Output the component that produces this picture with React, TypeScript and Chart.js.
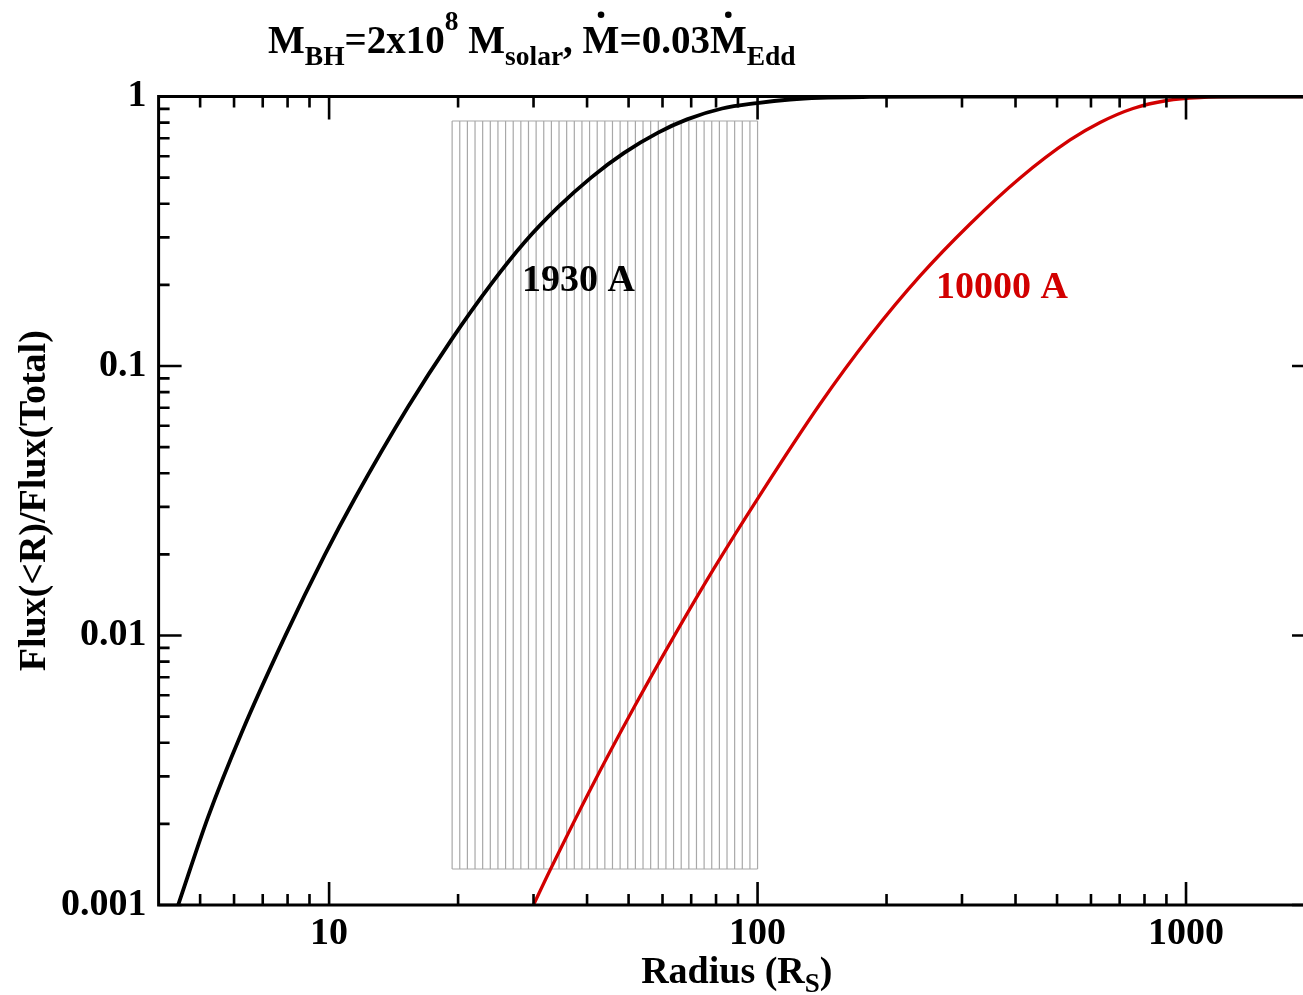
import { useEffect, useRef } from "react";
import { Chart, registerables } from "chart.js";

Chart.register(...registerables);

// ---- data ----
const radius1930 = [4.443, 5.22, 6.243, 7.88, 9.77, 11.48, 15.29, 19.27, 23.88, 28.62, 34.22, 40.87, 48.81, 58.59, 68.46, 82.65, 99.7, 119.1, 139.9, 183.0, 281.3, 2000];
const flux1930 = [0.001, 0.002124, 0.00434, 0.009881, 0.01991, 0.03224, 0.07058, 0.1248, 0.2013, 0.2884, 0.3883, 0.5001, 0.6176, 0.7345, 0.8224, 0.9026, 0.9452, 0.9747, 0.989, 0.9966, 0.9993, 1.0];

const radius10000 = [29.99, 32.8, 40.66, 51.31, 63.61, 78.86, 99.57, 139.9, 183.0, 239.5, 313.3, 409.9, 536.3, 630.1, 752.0, 903.0, 1078.3, 1411, 2000];
const flux10000 = [0.001, 0.001348, 0.002672, 0.005356, 0.00984, 0.01759, 0.03182, 0.07228, 0.1292, 0.2158, 0.3364, 0.4984, 0.6897, 0.8008, 0.9026, 0.9664, 0.9915, 0.9992, 1.0];

const xMajorTicks = [10, 100, 1000];
const xTickLabels = ["10", "100", "1000"];
const xMinorTicks = [5, 6, 7, 8, 9, 20, 30, 40, 50, 60, 70, 80, 90, 200, 300, 400, 500, 600, 700, 800, 900, 2000];
const yMajorTicks = [0.001, 0.01, 0.1, 1];
const yTickLabels = ["0.001", "0.01", "0.1", "1"];
const yMinorTicks = [
  0.002, 0.003, 0.004, 0.005, 0.006, 0.007, 0.008, 0.009,
  0.02, 0.03, 0.04, 0.05, 0.06, 0.07, 0.08, 0.09,
  0.2, 0.3, 0.4, 0.5, 0.6, 0.7, 0.8, 0.9,
];

// shaded (hatched) region: radius range and flux range
const hatchRadius = [19.37, 100];
const hatchFlux = [0.00136, 0.811];
const hatchLineCount = 41;

// curve labels
const labelTexts = ["1930 A", "10000 A"];
const labelRadius = [28.2, 261];
const labelFlux = [0.1898, 0.1792];

const RED = "#d20000";
const FONT = "'Liberation Serif', 'Times New Roman', Times, serif";

type Seg = { t: string; s: number; dy?: number; dot?: boolean };

function drawRich(ctx: CanvasRenderingContext2D, x: number, y: number, segs: Seg[], align: "left" | "center") {
  let total = 0;
  const widths: number[] = [];
  for (const sg of segs) {
    ctx.font = `bold ${sg.s}px ${FONT}`;
    const w = ctx.measureText(sg.t).width;
    widths.push(w);
    total += w;
  }
  let cx = align === "center" ? x - total / 2 : x;
  ctx.textAlign = "left";
  ctx.textBaseline = "alphabetic";
  segs.forEach((sg, i) => {
    ctx.font = `bold ${sg.s}px ${FONT}`;
    ctx.fillText(sg.t, cx, y + (sg.dy || 0));
    if (sg.dot) {
      ctx.beginPath();
      ctx.arc(cx + widths[i] / 2, y - sg.s * 0.98, 3.3, 0, Math.PI * 2);
      ctx.fill();
    }
    cx += widths[i];
  });
}

const decorPlugin = {
  id: "decor",
  beforeDatasetsDraw(chart: any) {
    const { ctx, chartArea } = chart;
    const xs = chart.scales.x;
    const ys = chart.scales.y;
    const x0 = xs.getPixelForValue(hatchRadius[0]);
    const x1 = xs.getPixelForValue(hatchRadius[1]);
    const yTop = ys.getPixelForValue(hatchFlux[1]);
    const yBot = ys.getPixelForValue(hatchFlux[0]);
    ctx.save();
    ctx.beginPath();
    ctx.rect(chartArea.left, chartArea.top, chartArea.right - chartArea.left, chartArea.bottom - chartArea.top);
    ctx.clip();
    ctx.strokeStyle = "#a8a8a8";
    ctx.lineWidth = 1.2;
    ctx.beginPath();
    for (let i = 0; i < hatchLineCount; i++) {
      const px = x0 + ((x1 - x0) * i) / (hatchLineCount - 1);
      ctx.moveTo(px, yTop);
      ctx.lineTo(px, yBot);
    }
    ctx.moveTo(x0, yTop);
    ctx.lineTo(x1, yTop);
    ctx.moveTo(x0, yBot);
    ctx.lineTo(x1, yBot);
    ctx.stroke();
    ctx.restore();
  },
  afterDatasetsDraw(chart: any) {
    const { ctx, chartArea } = chart;
    const { left, right, top, bottom } = chartArea;
    const xs = chart.scales.x;
    const ys = chart.scales.y;
    ctx.save();
    ctx.strokeStyle = "#000";
    ctx.lineWidth = 2.6;
    ctx.lineCap = "butt";
    const MAJ = 23;
    const MIN = 11;
    ctx.beginPath();
    const xt = (v: number, len: number) => {
      const px = xs.getPixelForValue(v);
      ctx.moveTo(px, bottom);
      ctx.lineTo(px, bottom - len);
      ctx.moveTo(px, top);
      ctx.lineTo(px, top + len);
    };
    const yt = (v: number, len: number) => {
      const py = ys.getPixelForValue(v);
      ctx.moveTo(left, py);
      ctx.lineTo(left + len, py);
      ctx.moveTo(right, py);
      ctx.lineTo(right - len, py);
    };
    xMajorTicks.forEach((v) => xt(v, MAJ));
    xMinorTicks.forEach((v) => xt(v, MIN));
    yMajorTicks.forEach((v) => yt(v, MAJ));
    yMinorTicks.forEach((v) => yt(v, MIN));
    ctx.stroke();
    ctx.lineWidth = 3;
    ctx.strokeRect(left, top, right - left, bottom - top);

    // curve labels
    ctx.font = `bold 38px ${FONT}`;
    ctx.textAlign = "left";
    ctx.textBaseline = "alphabetic";
    labelTexts.forEach((t, i) => {
      ctx.fillStyle = i === 0 ? "#000" : RED;
      ctx.fillText(t, xs.getPixelForValue(labelRadius[i]), ys.getPixelForValue(labelFlux[i]));
    });

    // title
    ctx.fillStyle = "#000";
    drawRich(
      ctx,
      268,
      53,
      [
        { t: "M", s: 39 },
        { t: "BH", s: 27.5, dy: 12 },
        { t: "=2x10", s: 39 },
        { t: "8", s: 27.5, dy: -23 },
        { t: " M", s: 39 },
        { t: "solar", s: 27.5, dy: 12 },
        { t: ", ", s: 39 },
        { t: "M", s: 39, dot: true },
        { t: "=0.03", s: 39 },
        { t: "M", s: 39, dot: true },
        { t: "Edd", s: 27.5, dy: 12 },
      ],
      "left"
    );

    // x-axis title
    drawRich(
      ctx,
      (left + right) / 2,
      983,
      [
        { t: "Radius (R", s: 38 },
        { t: "S", s: 27, dy: 9 },
        { t: ")", s: 38 },
      ],
      "center"
    );

    // y-axis title
    ctx.save();
    ctx.translate(45, (top + bottom) / 2);
    ctx.rotate(-Math.PI / 2);
    ctx.font = `bold 38px ${FONT}`;
    ctx.textAlign = "center";
    ctx.textBaseline = "alphabetic";
    ctx.fillText("Flux(<R)/Flux(Total)", 0, 0);
    ctx.restore();

    ctx.restore();
  },
};

export default function App() {
  const ref = useRef<HTMLCanvasElement>(null);
  useEffect(() => {
    const canvas = ref.current;
    if (!canvas) return;
    const tickFont = { family: FONT, size: 38, weight: "bold" as const };
    const chart = new Chart(canvas, {
      type: "line",
      data: {
        datasets: [
          {
            label: "1930 A",
            data: radius1930.map((x, i) => ({ x, y: flux1930[i] })),
            borderColor: "#000",
            borderWidth: 3.8,
            pointRadius: 0,
            cubicInterpolationMode: "monotone",
            fill: false,
          },
          {
            label: "10000 A",
            data: radius10000.map((x, i) => ({ x, y: flux10000[i] })),
            borderColor: RED,
            borderWidth: 3.3,
            pointRadius: 0,
            cubicInterpolationMode: "monotone",
            fill: false,
          },
        ],
      },
      options: {
        responsive: false,
        animation: false,
        devicePixelRatio: 1,
        layout: { padding: { left: 0, right: 5, top: 96.5, bottom: 0 } },
        plugins: {
          legend: { display: false },
          tooltip: { enabled: false },
          title: { display: false },
        },
        scales: {
          x: {
            type: "logarithmic",
            position: "bottom",
            min: 4,
            max: 2000,
            grid: { display: false, drawTicks: false },
            border: { display: false },
            afterBuildTicks: (s: any) => {
              s.ticks = xMajorTicks.map((v) => ({ value: v }));
            },
            afterFit: (s: any) => {
              s.height = 90;
            },
            ticks: {
              autoSkip: false,
              maxRotation: 0,
              color: "#000",
              font: tickFont,
              padding: 6,
              callback: (_v: any, i: number) => xTickLabels[i],
            },
          },
          y: {
            type: "logarithmic",
            position: "left",
            min: 0.001,
            max: 1,
            grid: { display: false, drawTicks: false },
            border: { display: false },
            afterBuildTicks: (s: any) => {
              s.ticks = yMajorTicks.map((v) => ({ value: v }));
            },
            afterFit: (s: any) => {
              s.width = 158.6;
            },
            ticks: {
              autoSkip: false,
              color: "#000",
              font: tickFont,
              padding: 12,
              callback: (_v: any, i: number) => yTickLabels[i],
            },
          },
        },
      } as any,
      plugins: [decorPlugin],
    });
    return () => chart.destroy();
  }, []);

  return (
    <div
      style={{
        position: "fixed",
        left: 0,
        top: 0,
        width: 1303,
        height: 995,
        overflow: "hidden",
        background: "#fff",
      }}
    >
      <canvas ref={ref} width={1320} height={995} style={{ display: "block" }} />
    </div>
  );
}
